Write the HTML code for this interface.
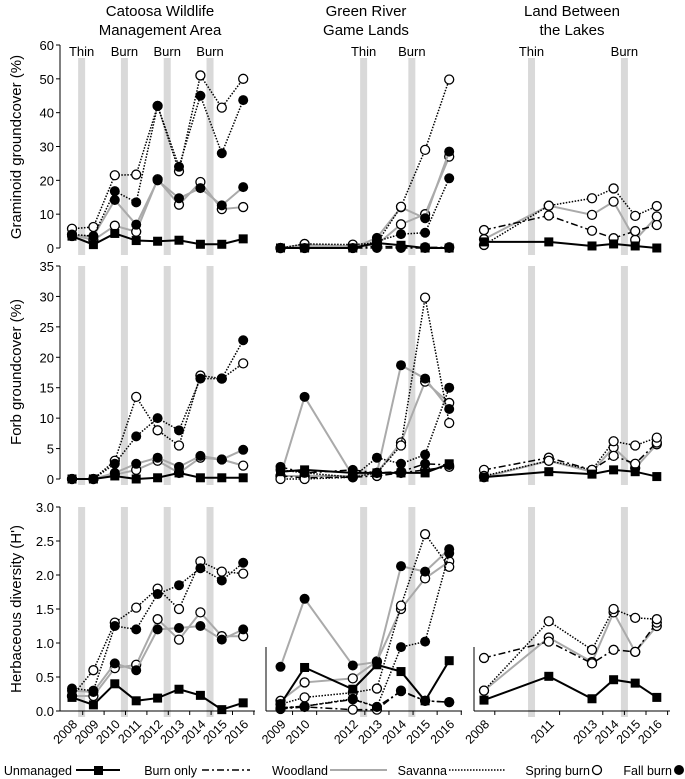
<!DOCTYPE html>
<html><head><meta charset="utf-8">
<style>
body{margin:0;background:#fff;}
svg{display:block;font-family:"Liberation Sans",sans-serif;}
</style></head>
<body>
<svg id="chart" width="685" height="779" viewBox="0 0 685 779" xmlns="http://www.w3.org/2000/svg">
<g font-size="15" text-anchor="middle" fill="#000">
<text x="160" y="16">Catoosa Wildlife</text><text x="160" y="35">Management Area</text>
<text x="366" y="16">Green River</text><text x="366" y="35">Game Lands</text>
<text x="572" y="16">Land Between</text><text x="572" y="35">the Lakes</text>
</g>
<g font-size="15" text-anchor="middle">
<text transform="translate(21,147) rotate(-90)">Graminoid groundcover (%)</text>
<text transform="translate(21,372) rotate(-90)">Forb groundcover (%)</text>
<text transform="translate(21,609) rotate(-90)">Herbaceous diversity (H')</text>
</g>
<g id="plot"></g>
<g font-size="12.5">
<text x="72" y="775" text-anchor="end">Unmanaged</text>
<line x1="76" y1="770" x2="120" y2="770" stroke="#000" stroke-width="2"/><rect x="94" y="766" width="9" height="9" fill="#000"/>
<text x="197" y="775" text-anchor="end">Burn only</text>
<line x1="202" y1="770" x2="250" y2="770" stroke="#000" stroke-width="1.5" stroke-dasharray="7,3,2,3"/>
<text x="328" y="775" text-anchor="end">Woodland</text>
<line x1="330" y1="770" x2="387" y2="770" stroke="#aaa" stroke-width="2"/>
<text x="447" y="775" text-anchor="end">Savanna</text>
<line x1="449" y1="770" x2="505" y2="770" stroke="#000" stroke-width="1.5" stroke-dasharray="1.5,1.5"/>
<text x="590" y="775" text-anchor="end">Spring burn</text><circle cx="597" cy="770" r="4.5" fill="#fff" stroke="#000" stroke-width="1.3"/>
<text x="672" y="775" text-anchor="end">Fall burn</text><circle cx="679" cy="770" r="5" fill="#000"/>
</g>
</svg>
<script>
// categories (years) per site
const yearsC = [2008,2009,2010,2011,2012,2013,2014,2015,2016];
const yearsG = [2009,2010,2012,2013,2014,2015,2016];
const yearsL = [2008,2011,2013,2014,2015,2016];
// Graminoid groundcover (%)
const gramC_unm = [3.5,1,4.3,2.2,2,2.3,1.1,1.1,2.7];
const gramC_savS = [5.7,6.2,21.5,21.7,42,22.7,51,41.5,50];
const gramC_savF = [4,3.5,16.8,13.5,42,24,45,28,43.7];
const gramC_wdS = [4,2.3,6.6,4.8,20.3,12.8,19.5,11.5,12.1];
const gramC_wdF = [3.5,3.5,14.2,6.9,20,14.7,17.7,12.6,18];
const gramG_unm = [0,0,0,1.5,0.8,0,0];
const gramG_burnS = [0,0,0,0.5,0.3,0.2,0.2];
const gramG_burnF = [0,0,0,0,0,0,0];
const gramG_savS = [0,1.2,1,1.5,12.2,29,49.8];
const gramG_savF = [0,0,0,2,4.1,4.5,20.6];
const gramG_wdS = [0,1,0.5,1,7,10,27];
const gramG_wdF = [0,0.5,0,3,12,8.8,28.5];
const gramL_unm = [1.8,1.8,0.6,1.2,0.6,0];
const gramL_burnS = [5.3,9.6,5.1,2.9,5,6.8];
const gramL_savS = [0.9,12.5,14.7,17.6,9.5,12.4];
const gramL_wdS = [2.6,12.5,9.8,13.7,2.4,9.3];
// Forb groundcover (%)
const forbC_unm = [0,0,0.5,0,0.2,1,0.2,0.2,0.2];
const forbC_savS = [0,0,3,13.5,8,5.5,17,16.5,19];
const forbC_savF = [0,0,2.5,7,10,8,16.5,16.5,22.8];
const forbC_wdS = [0,0,0.7,1.5,3,1,3.5,3.2,2.2];
const forbC_wdF = [0,0,1,2.5,3.5,2,3.8,3.2,4.8];
const forbG_unm = [1.2,1.5,1,1,1,1,2.5];
const forbG_burnS = [0.5,0.2,0.3,0.5,1,1.5,2];
const forbG_burnF = [2,1,1.5,1,1.2,2.5,2.3];
const forbG_savS = [0,0,0.3,1,5.5,29.8,9.2];
const forbG_savF = [1.5,1,0.3,3.5,2.5,4,15];
const forbG_wdS = [0.5,0.5,0.5,1,6,16,12.5];
const forbG_wdF = [0.5,13.5,0.5,1,18.7,16.5,11.5];
const forbL_unm = [0.3,1.2,0.8,1.5,1.2,0.4];
const forbL_burnS = [1.5,3.5,1.5,3.8,2.5,6];
const forbL_savS = [0.5,3,1.5,6.2,5.5,6.8];
const forbL_wdS = [0.3,3,1.2,5.2,1.8,5.7];
// Herbaceous diversity (H')
const divC_unm = [0.2,0.09,0.4,0.15,0.19,0.32,0.23,0.02,0.12];
const divC_savS = [0.22,0.6,1.3,1.52,1.8,1.5,2.2,2.05,2.02];
const divC_savF = [0.33,0.3,1.25,1.2,1.72,1.85,2.1,1.92,2.18];
const divC_wdS = [0.22,0.22,0.63,0.68,1.35,1.05,1.45,1.1,1.1];
const divC_wdF = [0.3,0.28,0.7,0.6,1.2,1.22,1.25,1.05,1.2];
const divG_unm = [0.1,0.64,0.32,0.68,0.58,0.15,0.74];
const divG_burnS = [0.03,0.06,0.02,0.02,0.3,0.15,0.13];
const divG_burnF = [0.05,0.07,0.17,0.06,0.29,0.15,0.13];
const divG_savS = [0.1,0.2,0.27,0.33,1.55,2.6,2.12];
const divG_savF = [0.04,0.07,0.18,0.06,0.94,1.02,2.32];
const divG_wdS = [0.15,0.42,0.48,0.73,1.5,1.95,2.2];
const divG_wdF = [0.65,1.65,0.67,0.72,2.13,2.05,2.38];
const divL_unm = [0.16,0.51,0.18,0.46,0.41,0.2];
const divL_burnS = [0.78,1.02,0.7,0.9,0.87,1.3];
const divL_savS = [0.3,1.32,0.9,1.5,1.37,1.35];
const divL_wdS = [0.3,1.08,0.72,1.45,0.87,1.25];
// tick labels
const ticksGram = [0,10,20,30,40,50,60];
const ticksForb = [0,5,10,15,20,25,30,35];
const ticksDiv = [0,0.5,1,1.5,2,2.5,3];
// treatment events (year midpoints)
const eventsC = [["Thin",2008.45],["Burn",2010.45],["Burn",2012.45],["Burn",2014.45]];
const eventsG = [["Thin",2012.45],["Burn",2014.45]];
const eventsL = [["Thin",2010.2],["Burn",2014.5]];

const NS="http://www.w3.org/2000/svg";
const plot=document.getElementById('plot');
function mk(tag,attrs,parent){const e=document.createElementNS(NS,tag);for(const k in attrs)e.setAttribute(k,attrs[k]);(parent||plot).appendChild(e);return e;}

const cols=[
 {x0:72,y0:2008,step:21.4,axis:60,end:255,years:yearsC,events:eventsC,key:'C'},
 {x0:280.5,y0:2009,step:24.1,axis:266,end:462,years:yearsG,events:eventsG,key:'G'},
 {x0:484,y0:2008,step:21.6,axis:474,end:670,years:yearsL,events:eventsL,key:'L'}
];
const rows=[
 {top:45,bot:248,max:60,ticks:ticksGram,fmt:v=>String(v),d:{C:[gramC_unm,null,null,gramC_wdS,gramC_wdF,gramC_savS,gramC_savF],G:[gramG_unm,gramG_burnS,gramG_burnF,gramG_wdS,gramG_wdF,gramG_savS,gramG_savF],L:[gramL_unm,gramL_burnS,null,gramL_wdS,null,gramL_savS,null]}},
 {top:266,bot:479,max:35,ticks:ticksForb,fmt:v=>String(v),d:{C:[forbC_unm,null,null,forbC_wdS,forbC_wdF,forbC_savS,forbC_savF],G:[forbG_unm,forbG_burnS,forbG_burnF,forbG_wdS,forbG_wdF,forbG_savS,forbG_savF],L:[forbL_unm,forbL_burnS,null,forbL_wdS,null,forbL_savS,null]}},
 {top:507,bot:711,max:3,ticks:ticksDiv,fmt:v=>v.toFixed(1),d:{C:[divC_unm,null,null,divC_wdS,divC_wdF,divC_savS,divC_savF],G:[divG_unm,divG_burnS,divG_burnF,divG_wdS,divG_wdF,divG_savS,divG_savF],L:[divL_unm,divL_burnS,null,divL_wdS,null,divL_savS,null]}}
];
const names=['unmanaged','burn-only-spring','burn-only-fall','woodland-spring','woodland-fall','savanna-spring','savanna-fall'];
const styles=[
 {stroke:'#000',w:2,dash:null,m:'sq'},
 {stroke:'#000',w:1.5,dash:'7,3,2,3',m:'o'},
 {stroke:'#000',w:1.5,dash:'7,3,2,3',m:'f'},
 {stroke:'#aaa',w:2,dash:null,m:'o'},
 {stroke:'#aaa',w:2,dash:null,m:'f'},
 {stroke:'#000',w:1.5,dash:'1.5,1.5',m:'o'},
 {stroke:'#000',w:1.5,dash:'1.5,1.5',m:'f'}
];
const drawOrder=[3,4,1,2,5,6,0];

rows.forEach((r,ri)=>{
  const ys=v=>r.bot-(v/r.max)*(r.bot-r.top);
  cols.forEach((c,ci)=>{
    const xs=y=>c.x0+(y-c.y0)*c.step;
    const g=mk('g',{});
    
    
    c.events.forEach(ev=>{
      const b=mk('rect',{x:xs(ev[1])-3.5,y:r.top+(ri==0?13:0),width:7,height:r.bot-r.top+(ri==0?-6:6),fill:'#d9d9d9'},g);
      
      
      if(ri==0){const t=mk('text',{x:xs(ev[1]),y:56,'font-size':13,'text-anchor':'middle'},g);t.textContent=ev[0];
        
        }
    });
    if(ci==0){
      const ax=mk('g',{},g);
      
      
      mk('line',{x1:c.axis,y1:r.top,x2:c.axis,y2:r.bot,stroke:'#000'},ax);
      r.ticks.forEach(t=>{
        mk('line',{x1:c.axis-4,y1:ys(t),x2:c.axis,y2:ys(t),stroke:'#000'},ax);
        const tx=mk('text',{x:c.axis-6,y:ys(t)+5,'font-size':13,'text-anchor':'end'},ax);tx.textContent=r.fmt(t);
      });
    } else if(ri==2){
      mk('line',{x1:c.axis,y1:r.top+140,x2:c.axis,y2:r.bot,stroke:'#000'},g);
    }
    if(ri==2){
      const xa=mk('g',{},g);
      
      
      mk('line',{x1:c.axis,y1:r.bot,x2:c.end,y2:r.bot,stroke:'#000'},xa);
      c.years.forEach(y=>{
        const x=xs(y);
        mk('line',{x1:x+c.step/2,y1:r.bot,x2:x+c.step/2,y2:r.bot+4,stroke:'#000'},xa);
        const t=mk('text',{'font-size':12.5,'text-anchor':'end',transform:'translate('+(x+6)+','+(r.bot+14)+') rotate(-45)'},xa);
        t.textContent=y;
      });
    }
    const data=r.d[c.key];
    drawOrder.forEach(si=>{
      const vals=data[si]; if(!vals) return;
      const st=styles[si];
      const sg=mk('g',{},g);
      
      
      const pts=vals.map((v,i)=>xs(c.years[i])+','+ys(v)).join(' ');
      const pl=mk('polyline',{points:pts,fill:'none',stroke:st.stroke,'stroke-width':st.w},sg);
      if(st.dash)pl.setAttribute('stroke-dasharray',st.dash);
      vals.forEach((v,i)=>{
        const x=xs(c.years[i]),y=ys(v);
        let m;
        if(st.m=='sq') m=mk('rect',{x:x-4.5,y:y-4.5,width:9,height:9,fill:'#000'},sg);
        else if(st.m=='o') m=mk('circle',{cx:x,cy:y,r:4.5,fill:'#fff',stroke:'#000','stroke-width':1.3},sg);
        else m=mk('circle',{cx:x,cy:y,r:5,fill:'#000'},sg);
        
        
      });
    });
  });
});
</script>
</body></html>
